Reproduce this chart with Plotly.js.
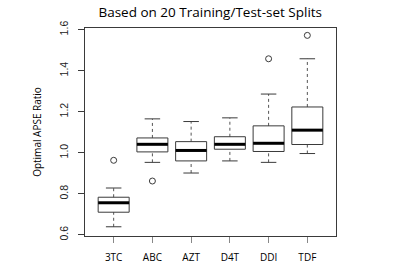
<!DOCTYPE html>
<html>
<head>
<meta charset="utf-8">
<script src="https://cdn.plot.ly/plotly-3.0.1.min.js"></script>
<style>html,body{margin:0;padding:0;background:#fff;}#chart{width:393px;height:276px;}</style>
</head>
<body>
<div id="chart"></div>
<script>
const categories = ['3TC', 'ABC', 'AZT', 'D4T', 'DDI', 'TDF'];
const whiskerLow = [0.639, 0.953, 0.901, 0.960, 0.953, 0.996];
const q1 = [0.710, 1.004, 0.960, 1.017, 1.006, 1.040];
const median = [0.756, 1.041, 1.011, 1.041, 1.046, 1.110];
const q3 = [0.783, 1.072, 1.054, 1.078, 1.131, 1.223];
const whiskerHigh = [0.828, 1.165, 1.152, 1.170, 1.286, 1.458];
const outlierCat = ['3TC', 'ABC', 'DDI', 'TDF'];
const outlierVal = [0.963, 0.862, 1.458, 1.572];

const halfBox = 0.4, halfStaple = 0.2;
const bx = [], by = [], mx = [], my = [], wx = [], wy = [], sx = [], sy = [];
categories.forEach((c, k) => {
  const i = k + 1;
  bx.push(i - halfBox, i + halfBox, i + halfBox, i - halfBox, i - halfBox, null);
  by.push(q1[k], q1[k], q3[k], q3[k], q1[k], null);
  mx.push(i - halfBox, i + halfBox, null);
  my.push(median[k], median[k], null);
  wx.push(i, i, null, i, i, null);
  wy.push(q3[k], whiskerHigh[k], null, whiskerLow[k], q1[k], null);
  sx.push(i - halfStaple, i + halfStaple, null, i - halfStaple, i + halfStaple, null);
  sy.push(whiskerHigh[k], whiskerHigh[k], null, whiskerLow[k], whiskerLow[k], null);
});
const ox = outlierCat.map(c => categories.indexOf(c) + 1);

const lineCol = '#3a3a3a';
const traces = [
  {x: wx, y: wy, mode: 'lines', line: {color: '#555', width: 1, dash: '3px,3px'}, hoverinfo: 'skip'},
  {x: sx, y: sy, mode: 'lines', line: {color: lineCol, width: 1}, hoverinfo: 'skip'},
  {x: bx, y: by, mode: 'lines', line: {color: lineCol, width: 1}, hoverinfo: 'skip'},
  {x: mx, y: my, mode: 'lines', line: {color: '#000', width: 3}, hoverinfo: 'skip'},
  {x: ox, y: outlierVal, mode: 'markers', marker: {symbol: 'circle-open', size: 6, color: lineCol, line: {width: 1}}, hoverinfo: 'skip'}
];

const layout = {
  width: 393, height: 276,
  margin: {l: 85, r: 57, t: 28, b: 40},
  paper_bgcolor: '#fff', plot_bgcolor: '#fff',
  showlegend: false,
  title: {text: 'Based on 20 Training/Test-set Splits', font: {family: 'Open Sans', size: 13.5, color: '#000'},
          x: 0.535, xanchor: 'center', yref: 'container', y: 0.955, yanchor: 'middle'},
  xaxis: {range: [0.26, 6.74], tickvals: categories.map((c, k) => k + 1), ticktext: categories,
          showgrid: false, zeroline: false, showline: true, mirror: true, linecolor: lineCol, linewidth: 1,
          ticks: 'outside', ticklen: 6, tickcolor: '#888', ticklabelstandoff: 6,
          tickfont: {family: 'Open Sans', size: 10, color: '#000'}},
  yaxis: {range: [0.594, 1.608], tickvals: [0.6, 0.8, 1.0, 1.2, 1.4, 1.6], ticktext: ['0.6', '0.8', '1.0', '1.2', '1.4', '1.6'],
          tickangle: -90, showgrid: false, zeroline: false, showline: true, mirror: true, linecolor: lineCol, linewidth: 1,
          ticks: 'outside', ticklen: 6, tickcolor: lineCol, ticklabelstandoff: 6,
          tickfont: {family: 'Liberation Sans', size: 10.5, color: '#222'},
          title: {text: 'Optimal APSE Ratio', font: {family: 'Open Sans', size: 10, color: '#000'}, standoff: 14}}
};

Plotly.newPlot('chart', traces, layout, {displayModeBar: false, staticPlot: true});
</script>
</body>
</html>
